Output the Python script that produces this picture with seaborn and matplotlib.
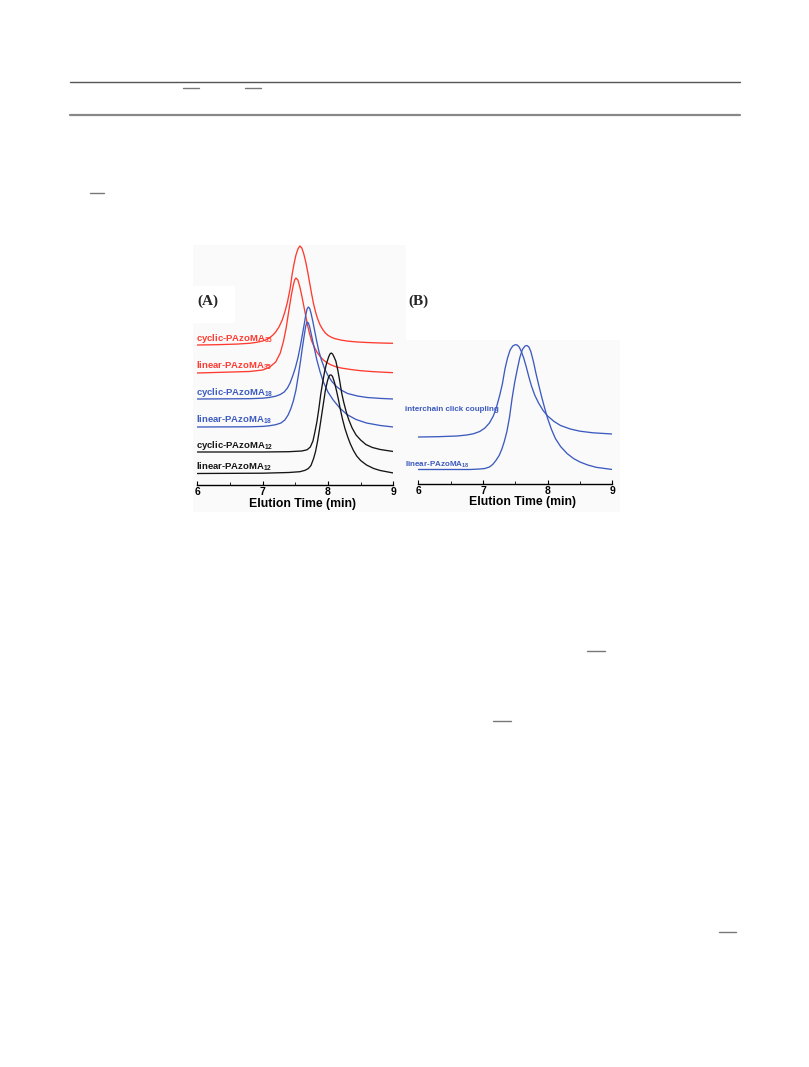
import numpy as np
import pandas as pd
import seaborn as sns
import matplotlib.pyplot as plt
from matplotlib.lines import Line2D
from matplotlib.patches import Rectangle

# ---- panel A traces (time in min, signal above each baseline) ----
cyc35_t = [6.0, 6.3, 6.6, 6.8, 6.9, 7.0, 7.05, 7.1, 7.15, 7.2, 7.25, 7.3, 7.34, 7.38, 7.42, 7.45,
           7.48, 7.51, 7.54, 7.57, 7.60, 7.63, 7.66, 7.69, 7.72, 7.75, 7.78, 7.81, 7.84, 7.88,
           7.92, 7.96, 8.0, 8.05, 8.1, 8.2, 8.3, 8.45, 8.6, 8.8, 9.0]
cyc35_h = [0, 0.3, 0.9, 1.7, 2.6, 4.0, 5.2, 7.0, 9.5, 13, 18, 25, 33, 43, 56, 70,
           81, 90, 96, 99, 97, 91, 83, 73, 62, 51, 41, 33, 26.5, 20,
           15.5, 12, 9.7, 7.8, 6.5, 4.9, 3.9, 3.0, 2.5, 2.0, 1.7]

lin35_t = [6.0, 6.8, 7.0, 7.1, 7.2, 7.27, 7.32, 7.36, 7.40, 7.44, 7.47, 7.49, 7.51, 7.54, 7.57,
           7.60, 7.63, 7.66, 7.69, 7.72, 7.75, 7.79, 7.83, 7.88, 7.93, 7.98, 8.05, 8.12, 8.2,
           8.35, 8.5, 8.7, 9.0]
lin35_h = [0, 1.5, 3, 5.5, 11, 20, 32, 45, 62, 78, 88, 93, 95, 93, 86,
           77, 67, 57, 47, 39, 32, 26, 21, 16.5, 13, 10.5, 8, 6.3, 5,
           3.5, 2.3, 1.3, 0.3]

cyc18_t = [6.0, 6.8, 7.0, 7.1, 7.2, 7.27, 7.33, 7.38, 7.42, 7.46, 7.50, 7.54, 7.58, 7.61, 7.64,
           7.66, 7.68, 7.70, 7.72, 7.74, 7.77, 7.80, 7.83, 7.86, 7.90, 7.95, 8.0, 8.06, 8.13,
           8.2, 8.3, 8.45, 8.6, 8.8, 9.0]
cyc18_h = [0, 0.3, 0.8, 1.5, 2.8, 4.5, 7, 11, 16, 23, 31, 41, 54, 65, 76,
           84, 90, 92, 90.5, 86, 77, 67, 57, 48, 39, 30, 23.5, 17.5, 12.5,
           9, 5.5, 3, 1.5, 0.6, 0]

lin18_t = [6.0, 6.8, 7.0, 7.1, 7.2, 7.28, 7.34, 7.39, 7.43, 7.47, 7.51, 7.55, 7.58, 7.61, 7.64,
           7.66, 7.68, 7.70, 7.72, 7.75, 7.79, 7.83, 7.88, 7.93, 8.0, 8.08, 8.18, 8.29, 8.43,
           8.59, 8.8, 9.0]
lin18_h = [0, 0.2, 0.6, 1.2, 2.3, 4, 7, 12, 18, 26, 37, 53, 66, 80, 93,
           101, 105, 104, 100, 91, 79, 67, 55, 45, 35, 27, 19, 12.5, 7.5,
           4, 1.5, 0]

cyc12_t = [6.0, 7.0, 7.4, 7.6, 7.68, 7.73, 7.77, 7.80, 7.83, 7.86, 7.89, 7.92, 7.95, 7.98, 8.01,
           8.03, 8.05, 8.07, 8.09, 8.12, 8.15, 8.18, 8.21, 8.24, 8.28, 8.32, 8.37, 8.43, 8.5,
           8.58, 8.68, 8.8, 9.0]
cyc12_h = [0, 0, 0.3, 1, 2.2, 5, 11, 20, 30, 43, 58, 70, 81, 89, 95,
           98, 99, 98, 95.5, 91, 82, 71, 59, 50, 40, 32, 24, 17, 12,
           7.5, 4.5, 2.5, 0.5]

lin12_t = [6.0, 7.0, 7.4, 7.57, 7.65, 7.70, 7.74, 7.78, 7.81, 7.84, 7.87, 7.90, 7.93, 7.96, 7.99,
           8.01, 8.03, 8.05, 8.07, 8.10, 8.13, 8.16, 8.19, 8.22, 8.26, 8.30, 8.34, 8.39, 8.44,
           8.5, 8.59, 8.7, 8.8, 9.0]
lin12_h = [0, 0.3, 1, 1.8, 3.2, 5, 8, 15, 22, 32, 44, 57, 70, 83, 92,
           96.5, 98.5, 98.5, 97, 91, 83, 74, 64, 55, 45, 37, 30, 23, 17.5,
           13, 8.5, 5, 3, 0.5]

# ---- panel B traces ----
click_t = [6.0, 6.3, 6.6, 6.75, 6.85, 6.95, 7.03, 7.1, 7.16, 7.21, 7.26, 7.30, 7.34, 7.38, 7.42,
           7.46, 7.50, 7.53, 7.56, 7.59, 7.63, 7.67, 7.71, 7.75, 7.80, 7.86, 7.93, 8.0, 8.1,
           8.2, 8.35, 8.5, 8.7, 9.0]
click_h = [0, 0.3, 1, 2, 3.2, 5.5, 9, 14, 21, 30, 42, 53, 68, 79, 87,
           91, 92.3, 92, 90, 86, 79, 70, 60, 51, 42, 34, 26.5, 21, 15.5,
           11.5, 8, 5.8, 4.2, 3]

linB_t = [6.0, 6.8, 6.95, 7.03, 7.1, 7.15, 7.2, 7.25, 7.29, 7.33, 7.37, 7.41, 7.45, 7.49, 7.53,
          7.57, 7.61, 7.65, 7.68, 7.71, 7.74, 7.78, 7.82, 7.86, 7.91, 7.96, 8.0, 8.06, 8.12,
          8.2, 8.3, 8.4, 8.5, 8.62, 8.75, 9.0]
linB_h = [0, 0, 0.5, 1, 2.5, 5, 9, 14, 20, 28, 38, 52, 71, 87, 100,
          112, 120, 123.5, 124, 122.5, 118, 108, 96, 85, 72, 60, 51, 40, 31,
          23, 16, 11, 7.5, 4.5, 2.2, 0]

names_A = ["cyclic-PAzoMA$_{\\mathbf{35}}$", "linear-PAzoMA$_{\\mathbf{35}}$",
           "cyclic-PAzoMA$_{\\mathbf{18}}$", "linear-PAzoMA$_{\\mathbf{18}}$",
           "cyclic-PAzoMA$_{\\mathbf{12}}$", "linear-PAzoMA$_{\\mathbf{12}}$"]
baselines_A = [140, 112, 86, 58, 33, 11.5]
names_B = ["interchain click coupling", "linear-PAzoMA$_{\\mathbf{18}}$"]
baselines_B = [47, 14.5]

RED = "#ff3b30"
BLUE = "#3d5bbf"
BLACK = "#151515"

sns.set_theme(style="white")
plt.rcParams['font.family'] = ['Liberation Sans', 'DejaVu Sans']
plt.rcParams['mathtext.fontset'] = 'custom'
plt.rcParams['mathtext.rm'] = 'Liberation Sans'
plt.rcParams['mathtext.bf'] = 'Liberation Sans:bold'

W, H = 809, 1067
fig = plt.figure(figsize=(W / 100, H / 100), dpi=100)
fig.patch.set_facecolor("white")


def fx(px):
    return px / W


def fy(py):
    return 1 - py / H


# page decoration (table rules and link underlines)
for y, lw, c in [(82, 1.0, "#555555"), (115, 1.6, "#888888")]:
    fig.add_artist(Line2D([fx(70), fx(740)], [fy(y), fy(y)], lw=lw, color=c))
for x0, x1, y in [(183, 199, 88), (245, 261, 88), (90, 104, 193),
                  (587, 605, 651), (493, 511, 721), (719, 736, 932)]:
    fig.add_artist(Line2D([fx(x0), fx(x1)], [fy(y), fy(y)], lw=1.0, color="#777777"))

# faint image backgrounds
fig.add_artist(Rectangle((fx(193), fy(512)), fx(406) - fx(193), fy(245) - fy(512),
                         facecolor="#fafafa", edgecolor="none", zorder=0))
fig.add_artist(Rectangle((fx(193), fy(323)), fx(235) - fx(193), fy(286) - fy(323),
                         facecolor="white", edgecolor="none", zorder=0))
fig.add_artist(Rectangle((fx(406), fy(512)), fx(620) - fx(406), fy(340) - fy(512),
                         facecolor="#fafafa", edgecolor="none", zorder=0))


def style_axis(ax, top):
    ax.set_facecolor("none")
    ax.set_xlim(6, 9)
    ax.set_ylim(0, top)
    sns.despine(ax=ax, left=True, top=True, right=True)
    ax.spines['bottom'].set_color("black")
    ax.spines['bottom'].set_linewidth(1.0)
    ax.set_yticks([])
    ax.set_xticks([6, 7, 8, 9])
    ax.set_xticks([6.5, 7.5, 8.5], minor=True)
    ax.tick_params(axis='x', which='major', direction='in', length=3, width=0.8,
                   bottom=True, pad=1.5, labelsize=7.5, colors='black')
    ax.tick_params(axis='x', which='minor', direction='in', length=2, width=0.7, bottom=True)
    for lab in ax.get_xticklabels():
        lab.set_fontweight('bold')
    ax.set_xlabel("Elution Time (min)", fontsize=8.8, fontweight='bold', labelpad=0.3,
                  color='black')
    ax.xaxis.label.set_x(0.535)
    ax.set_ylabel("")


# panel A
axA = fig.add_axes([fx(197.3), fy(485), fx(393.3) - fx(197.3), fy(244) - fy(485)])
traces_A = [(cyc35_t, cyc35_h, RED), (lin35_t, lin35_h, RED),
            (cyc18_t, cyc18_h, BLUE), (lin18_t, lin18_h, BLUE),
            (cyc12_t, cyc12_h, BLACK), (lin12_t, lin12_h, BLACK)]
for (t, h, c), base, name in zip(traces_A, baselines_A, names_A):
    df = pd.DataFrame({"t": t, "y": np.array(h) + base})
    sns.lineplot(data=df, x="t", y="y", ax=axA, color=c, lw=0.95, sort=False, estimator=None)
    axA.text(5.985, base + 4, name, color=c, fontsize=6.8, fontweight='bold',
             ha='left', va='baseline', clip_on=False)
style_axis(axA, 241)
fig.text(fx(207.5), fy(301.5), "(A)", family=['Liberation Serif', 'DejaVu Serif'],
         fontsize=11, fontweight='bold', ha='center', va='center')

# panel B
axB = fig.add_axes([fx(418.3), fy(484), fx(612.3) - fx(418.3), fy(343) - fy(484)])
traces_B = [(click_t, click_h, BLUE), (linB_t, linB_h, BLUE)]
for (t, h, c), base in zip(traces_B, baselines_B):
    df = pd.DataFrame({"t": t, "y": np.array(h) + base})
    sns.lineplot(data=df, x="t", y="y", ax=axB, color=c, lw=0.95, sort=False, estimator=None)
axB.text(5.79, baselines_B[0] + 26, names_B[0], color=BLUE, fontsize=5.8,
         fontweight='bold', ha='left', va='baseline', clip_on=False)
axB.text(5.79, baselines_B[1] + 3, names_B[1], color=BLUE, fontsize=5.8,
         fontweight='bold', ha='left', va='baseline', clip_on=False)
style_axis(axB, 141)
fig.text(fx(418.3), fy(301.5), "(B)", family=['Liberation Serif', 'DejaVu Serif'],
         fontsize=11, fontweight='bold', ha='center', va='center')

fig.savefig("out.png", dpi=100)
